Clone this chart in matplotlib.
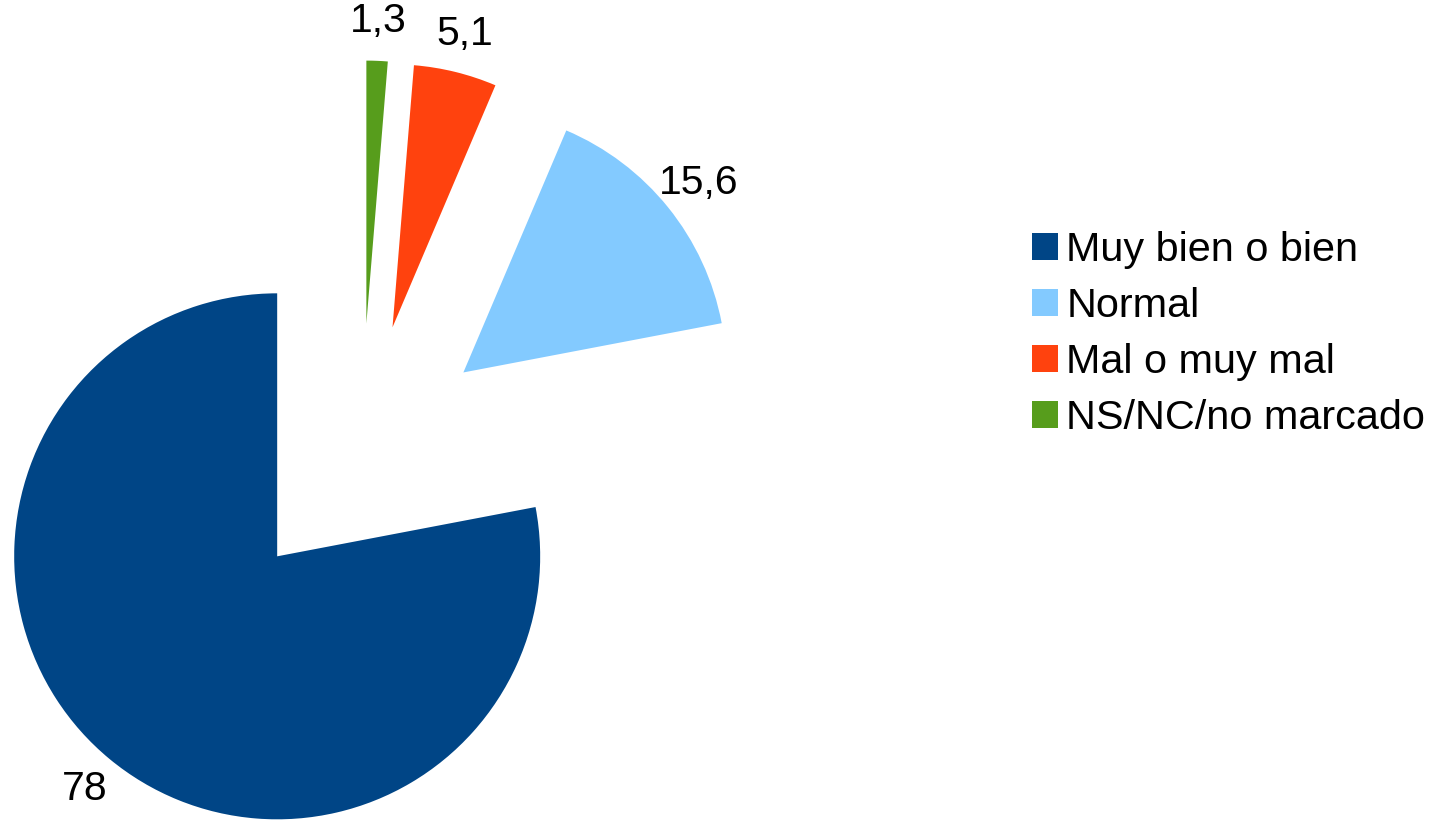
import matplotlib.pyplot as plt

plt.rcParams['font.family'] = ['Liberation Sans', 'DejaVu Sans']

categories = ['Muy bien o bien', 'Normal', 'Mal o muy mal', 'NS/NC/no marcado']
values = [78, 15.6, 5.1, 1.3]
value_labels = ['78', '15,6', '5,1', '1,3']
colors = ['#004586', '#83CAFF', '#FF420E', '#579D1C']

W, H = 1432, 821
fig = plt.figure(figsize=(W / 100, H / 100), dpi=100)
ax = fig.add_axes([0, 0, 1, 1])

wedges, texts = ax.pie(values, labels=value_labels, colors=colors,
                       startangle=90, counterclock=True,
                       explode=[0.5] * len(values), labeldistance=1.15,
                       wedgeprops=dict(linewidth=0),
                       textprops=dict(fontsize=29.5, color='black'))
for t in texts:
    t.set_ha('center')
    t.set_va('center')

# pixel mapping: true centre at (361, 455) px, radius 263 px
scale = 263.0
cx, cy = 361.0, 455.0
ax.set_aspect('auto')
ax.set_xlim(-cx / scale, (W - cx) / scale)
ax.set_ylim(-(H - cy) / scale, cy / scale)
ax.axis('off')

fig.legend(wedges, categories, loc='center left',
           bbox_to_anchor=(1032 / W, 1 - 334 / H),
           frameon=False, fontsize=29.8, handlelength=0.63, handleheight=0.63,
           handletextpad=0.2, labelspacing=0.44, borderpad=0, borderaxespad=0)

fig.savefig('out.png', dpi=100)
